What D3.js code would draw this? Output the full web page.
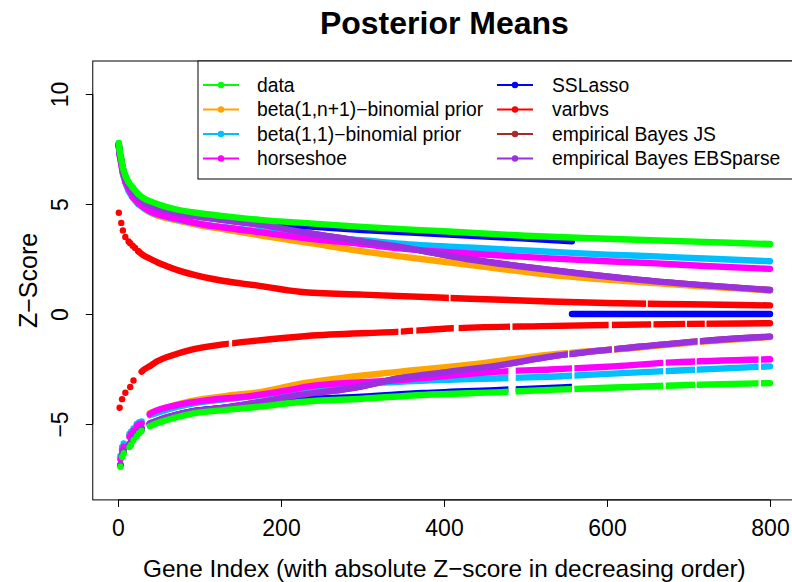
<!DOCTYPE html>
<html><head><meta charset="utf-8">
<script src="https://cdn.jsdelivr.net/npm/d3@7"></script>
<style>
body{margin:0;background:#fff}
svg{display:block}
text{font-family:"Liberation Sans",Arial,Helvetica,sans-serif;fill:#000}
</style>
</head><body>
<svg id="chart" width="792" height="582"></svg>
<script>
// ---------------- data ----------------
const xTicks = [0, 200, 400, 600, 800];
const yTicks = [-5, 0, 5, 10];

// upper (positive) branch anchors: [gene index, posterior mean]
const dataUp = [[1,7.77],[2,7.45],[4,7.05],[6,6.65],[9,6.3],[13,6.0],[18,5.75],[25,5.45],[32,5.25],[40,5.12],[50,4.98],[72,4.75],[100,4.58],[130,4.45],[174,4.28],[236,4.12],[300,3.96],[400,3.76],[500,3.56],[600,3.42],[700,3.3],[800,3.18]];
const beta1Up = [[1,7.6],[2,7.25],[4,6.8],[6,6.4],[9,6.0],[13,5.65],[18,5.3],[25,5.0],[32,4.8],[40,4.6],[50,4.45],[72,4.25],[100,4.03],[130,3.85],[174,3.58],[236,3.22],[300,2.85],[346,2.62],[428,2.25],[530,1.78],[640,1.45],[720,1.25],[800,1.07]];
const beta2Up = [[1,7.65],[2,7.3],[4,6.85],[6,6.4],[9,6.0],[13,5.6],[18,5.3],[25,5.0],[32,4.8],[40,4.63],[50,4.5],[72,4.3],[100,4.1],[130,3.95],[174,3.77],[236,3.52],[300,3.35],[346,3.2],[430,3.02],[530,2.83],[600,2.7],[661,2.62],[720,2.52],[800,2.4]];
const horseUp = [[1,7.62],[2,7.28],[4,6.85],[6,6.45],[9,6.05],[13,5.7],[18,5.35],[25,5.05],[32,4.85],[40,4.66],[50,4.52],[72,4.33],[100,4.1],[130,3.93],[174,3.72],[236,3.42],[300,3.18],[346,2.98],[430,2.75],[530,2.53],[600,2.4],[661,2.3],[720,2.18],[800,2.05]];
const sslassoUp = [[1,7.72],[2,7.4],[4,7.0],[6,6.6],[9,6.22],[13,5.92],[18,5.65],[25,5.35],[32,5.12],[40,5.0],[50,4.86],[72,4.63],[100,4.47],[130,4.34],[174,4.16],[236,3.98],[300,3.82],[400,3.62],[500,3.43],[557,3.3]];
const sslassoZero = [[557,0],[800,0]];
const varbvsUp = [[1,4.6],[4,4.14],[6,3.8],[9,3.5],[13,3.3],[15,3.22],[18,3.1],[21,3.0],[25,2.85],[30,2.7],[40,2.5],[50,2.32],[60,2.17],[75,1.97],[100,1.72],[130,1.5],[170,1.3],[223,1.01],[300,0.88],[407,0.73],[530,0.57],[600,0.5],[700,0.44],[800,0.39]];
const ebJsUp = [[1,7.7],[2,7.35],[4,6.95],[6,6.55],[9,6.15],[13,5.85],[18,5.55],[25,5.28],[32,5.05],[40,4.93],[50,4.8],[72,4.58],[100,4.42],[130,4.27],[174,4.06],[236,3.66],[300,3.3],[346,3.05],[428,2.5],[530,2.0],[640,1.55],[720,1.3],[800,1.09]];
const ebSparseUp = [[1,7.7],[2,7.35],[4,6.95],[6,6.55],[9,6.15],[13,5.85],[18,5.55],[25,5.28],[32,5.05],[40,4.93],[50,4.8],[72,4.58],[100,4.42],[130,4.27],[174,4.06],[236,3.66],[300,3.3],[346,3.05],[428,2.5],[530,2.0],[640,1.55],[720,1.3],[800,1.09]];

// lower (negative) branch: dense part anchors
const dataLo = [[39,-5.1],[42,-5.05],[60,-4.82],[88,-4.55],[133,-4.36],[174,-4.21],[223,-4.0],[300,-3.85],[374,-3.68],[469,-3.55],[530,-3.45],[600,-3.35],[700,-3.23],[800,-3.14]];
const beta1Lo = [[39,-4.5],[60,-4.25],[88,-3.97],[133,-3.72],[174,-3.55],[223,-3.18],[346,-2.62],[428,-2.32],[530,-1.85],[640,-1.52],[720,-1.25],[800,-1.05]];
const beta2Lo = [[39,-4.6],[60,-4.35],[88,-4.1],[133,-3.87],[174,-3.7],[223,-3.42],[346,-3.08],[469,-2.92],[530,-2.85],[600,-2.72],[681,-2.58],[800,-2.38]];
const horseLo = [[39,-4.55],[42,-4.48],[72,-4.14],[113,-3.91],[162,-3.73],[211,-3.45],[232,-3.3],[346,-3.0],[469,-2.62],[530,-2.52],[600,-2.4],[681,-2.2],[800,-2.06]];
const sslassoLo = [[39,-5.0],[60,-4.72],[88,-4.45],[133,-4.26],[174,-4.11],[223,-3.9],[300,-3.76],[374,-3.59],[469,-3.45],[530,-3.36],[556,-3.32]];
const varbvsLo = [[29,-2.62],[31,-2.55],[40,-2.35],[47,-2.17],[68,-1.86],[88,-1.64],[129,-1.38],[170,-1.21],[232,-1.0],[346,-0.8],[411,-0.65],[520,-0.55],[600,-0.5],[700,-0.45],[800,-0.42]];
const ebJsLo = [[39,-4.98],[60,-4.7],[88,-4.45],[133,-4.25],[174,-4.0],[223,-3.68],[285,-3.38],[346,-2.92],[407,-2.62],[469,-2.32],[530,-1.94],[640,-1.49],[720,-1.22],[800,-1.03]];
const ebSparseLo = [[39,-4.98],[60,-4.7],[88,-4.45],[133,-4.25],[174,-4.0],[223,-3.68],[285,-3.38],[346,-2.92],[407,-2.62],[469,-2.32],[530,-1.94],[640,-1.49],[720,-1.22],[800,-1.03]];

// lower branch: first sparse genes (individual dots)
const lowDotIdx = [3, 5, 7, 14, 16, 19, 23, 26, 29];
const dataLoDots = [-6.94,-6.5,-6.33,-6.05,-5.95,-5.73,-5.55,-5.42,-5.32];
const beta1LoDots = [-6.55,-6.15,-5.98,-5.55,-5.42,-5.27,-5.06,-4.97,-4.94];
const beta2LoDots = [-6.45,-6.05,-5.88,-5.45,-5.35,-5.2,-5.0,-4.92,-4.88];
const horseLoDots = [-6.6,-6.2,-6.03,-5.58,-5.45,-5.3,-5.09,-5.0,-4.97];
const sslassoLoDots = [-6.88,-6.42,-6.25,-5.97,-5.87,-5.65,-5.47,-5.34,-5.24];
const ebJsLoDots = [-6.85,-6.4,-6.2,-5.92,-5.8,-5.6,-5.42,-5.3,-5.2];
const ebSparseLoDots = [-6.85,-6.4,-6.2,-5.92,-5.8,-5.6,-5.42,-5.3,-5.2];
const varbvsLoDotIdx = [2, 5, 9, 15, 19];
const varbvsLoDots = [-4.26,-3.87,-3.58,-3.32,-3.02];

// index ranges with no genes on a branch
const lowerGaps = [[479,488],[557,560],[669,672],[708,710],[786,789]];
const shrinkLoGaps = [[552,554],[606,609],[711,714]];
const varbvsLoGaps = [[136,140],[344,347],[362,366],[412,418],[481,484],[602,606],[654,657],[696,698],[720,722]];
const varbvsUpGaps = [[406,408],[648,650]];

const seriesNames = ["data","beta(1,n+1)\u2212binomial prior","beta(1,1)\u2212binomial prior","horseshoe","SSLasso","varbvs","empirical Bayes JS","empirical Bayes EBSparse"];
const seriesColors = ["#00ff00","#ffa500","#00bfff","#ff00ff","#0000ff","#ff0000","#a52a2a","#9b30e0"];

// ---------------- drawing ----------------
const svg = d3.select("#chart");
const x = d3.scaleLinear().domain([0, 800]).range([118, 770]);
const y = d3.scaleLinear().domain([0, 10]).range([314, 94]);
const xLim = [-30.96, 831.96], yLim = [-8.45, 11.5];
const L = x(xLim[0]), R = x(xLim[1]), T = y(yLim[1]), B = y(yLim[0]);
const dotR = 3.2, lineW = 6.4;

const defs = svg.append("defs");
function makeClip(id, gaps) {
  const cp = defs.append("clipPath").attr("id", id);
  let start = xLim[0];
  const ivs = [];
  gaps.forEach(g => { ivs.push([start, g[0]]); start = g[1]; });
  ivs.push([start, xLim[1]]);
  cp.selectAll("rect").data(ivs).join("rect")
    .attr("x", d => x(d[0])).attr("width", d => x(d[1]) - x(d[0]))
    .attr("y", T).attr("height", B - T);
  return "url(#" + id + ")";
}
const clipLower = makeClip("clipLower", lowerGaps);
const clipShrink = makeClip("clipShrink", shrinkLoGaps);
const clipVarLo = makeClip("clipVarLo", varbvsLoGaps);
const clipVarUp = makeClip("clipVarUp", varbvsUpGaps);

const line = d3.line().x(d => x(d[0])).y(d => y(d[1])).curve(d3.curveMonotoneX);

function drawPath(g, pts, color, clip) {
  const p = g.append("path").attr("d", line(pts)).attr("fill", "none")
    .attr("stroke", color).attr("stroke-width", lineW)
    .attr("stroke-linecap", "round").attr("stroke-linejoin", "round");
  if (clip) p.attr("clip-path", clip);
}
function drawDots(g, pts, color) {
  g.selectAll(null).data(pts).join("circle")
    .attr("cx", d => x(d[0])).attr("cy", d => y(d[1])).attr("r", dotR).attr("fill", color);
}
const zip = (idx, vals) => idx.map((i, k) => [i, vals[k]]);

// draw order (last on top)
const layers = [
  {c: 6, up: ebJsUp, lo: ebJsLo, dots: zip(lowDotIdx, ebJsLoDots), loClip: clipShrink},
  {c: 1, up: beta1Up, lo: beta1Lo, dots: zip(lowDotIdx, beta1LoDots), loClip: clipShrink},
  {c: 2, up: beta2Up, lo: beta2Lo, dots: zip(lowDotIdx, beta2LoDots)},
  {c: 3, up: horseUp, lo: horseLo, dots: zip(lowDotIdx, horseLoDots)},
  {c: 5, up: varbvsUp, lo: varbvsLo, dots: zip(varbvsLoDotIdx, varbvsLoDots), upStart: 25, upClip: clipVarUp, loClip: clipVarLo},
  {c: 4, up: sslassoUp, lo: sslassoLo, dots: zip(lowDotIdx, sslassoLoDots), extra: sslassoZero},
  {c: 7, up: ebSparseUp, lo: ebSparseLo, dots: zip(lowDotIdx, ebSparseLoDots), loClip: clipShrink},
  {c: 0, up: dataUp, lo: dataLo, dots: zip(lowDotIdx, dataLoDots)}
];
const plotG = svg.append("g");
layers.forEach(s => {
  const col = seriesColors[s.c];
  const g = plotG.append("g");
  const st = s.upStart || 1;
  drawPath(g, s.up.filter(d => d[0] >= st), col, s.upClip);
  drawDots(g, s.up.filter(d => d[0] <= Math.max(st, 25)), col);
  drawPath(g, s.lo, col, s.loClip || clipLower);
  drawDots(g, s.dots, col);
  if (s.extra) drawPath(g, s.extra, col, null);
});

// box
svg.append("rect").attr("x", L).attr("y", T).attr("width", R - L).attr("height", B - T)
  .attr("fill", "none").attr("stroke", "#000").attr("stroke-width", 1);

// axes
const font = "'Liberation Sans',Arial,sans-serif";
const xAxis = svg.append("g").attr("transform", `translate(0,${B})`)
  .call(d3.axisBottom(x).tickValues(xTicks).tickSize(7).tickPadding(13).tickFormat(d3.format("d")));
xAxis.select(".domain").attr("d", `M${x(0)},0H${x(800)}`);
xAxis.selectAll("text").attr("font-size", 23).attr("dy", "0.71em").style("font-family", font);

const yAxis = svg.append("g").attr("transform", `translate(${L},0)`)
  .call(d3.axisLeft(y).tickValues(yTicks).tickSize(7).tickFormat(d => d < 0 ? "\u2212" + Math.abs(d) : d));
yAxis.select(".domain").attr("d", `M0,${y(-5)}V${y(10)}`);
yAxis.selectAll("text").attr("font-size", 23).attr("x", null).attr("dy", null)
  .attr("text-anchor", "middle")
  .attr("transform", "translate(-25,0) rotate(-90)")
  .style("font-family", font);

// titles
svg.append("text").attr("x", (L + R) / 2).attr("y", 34).attr("text-anchor", "middle")
  .attr("font-size", 32).attr("font-weight", "bold").text("Posterior Means");
svg.append("text").attr("x", (L + R) / 2).attr("y", 577).attr("text-anchor", "middle")
  .attr("font-size", 24.4).text("Gene Index (with absolute Z\u2212score in decreasing order)");
svg.append("text").attr("transform", `translate(37,${(T + B) / 2}) rotate(-90)`)
  .attr("text-anchor", "middle").attr("font-size", 25).text("Z\u2212Score");

// legend
const lg = svg.append("g");
lg.append("rect").attr("x", 198).attr("y", T).attr("width", R - 198).attr("height", 179 - T)
  .attr("fill", "#fff").attr("stroke", "#000").attr("stroke-width", 1);
const rowsY = [85, 109.5, 134, 158.5];
const cols = [{l0: 203, l1: 239, tx: 257}, {l0: 497, l1: 533, tx: 552}];
seriesNames.forEach((name, i) => {
  const c = cols[Math.floor(i / 4)], yy = rowsY[i % 4];
  lg.append("line").attr("x1", c.l0).attr("x2", c.l1).attr("y1", yy).attr("y2", yy)
    .attr("stroke", seriesColors[i]).attr("stroke-width", 2);
  lg.append("circle").attr("cx", (c.l0 + c.l1) / 2).attr("cy", yy).attr("r", dotR).attr("fill", seriesColors[i]);
  lg.append("text").attr("x", c.tx).attr("y", yy).attr("dy", "0.36em").attr("font-size", 19.3).text(name);
});
</script>
</body></html>
